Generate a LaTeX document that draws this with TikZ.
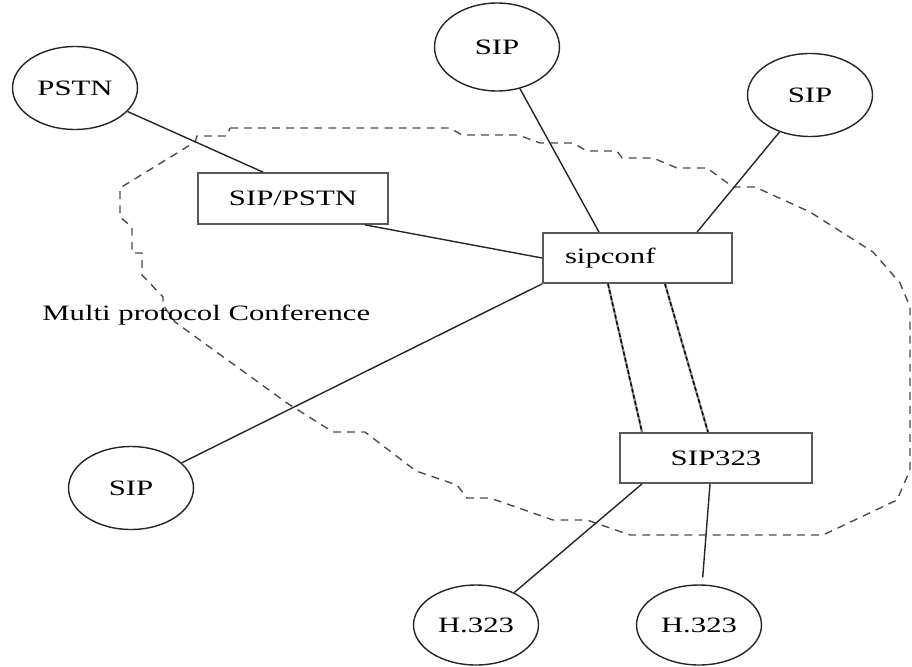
\documentclass[tikz,border=0pt]{standalone}
\usepackage{fontspec}
\setmainfont[FakeStretch=1.4]{Liberation Serif}
\usetikzlibrary{shapes.geometric}
\begin{document}
\begin{tikzpicture}[x=0.02cm,y=-0.02cm,
  font=\fontsize{12.5}{14}\selectfont,
  endpoint/.style={ellipse,draw=black!85,line width=0.8pt,inner sep=0pt,
    minimum width=2.5cm,minimum height=1.66cm},
  box/.style={rectangle,draw=black!65,line width=1pt,inner sep=0pt,
    minimum height=1cm},
  link/.style={draw=black!85,line width=0.8pt},
  trunk/.style={draw=black,line width=0.8pt,dash pattern=on 2.2pt off 1.4pt,
    preaction={draw=black!45,line width=1.3pt,solid}},
  cloudline/.style={draw=black!70,line width=0.8pt,dash pattern=on 4.5pt off 3.5pt}]
\useasboundingbox (0,0) rectangle (912,666);

% dashed conference boundary
\draw[cloudline] (230,128) -- (450,128) -- (462,135) -- (518,135) -- (540,143)
  -- (573,143) -- (587,151) -- (617,151) -- (622,158) -- (653,158) -- (677,168)
  -- (707,168) -- (733,187) -- (755,187) -- (810,212) -- (873,252) -- (900,283)
  -- (910,307) -- (910,470) -- (897,500) -- (823,535) -- (630,535) -- (587,520)
  -- (553,520) -- (490,498) -- (467,498) -- (457,485) -- (416,471) -- (365,432)
  -- (333,432) -- (287,403) -- (175,322) -- (163,305) -- (163,297) -- (142,275)
  -- (142,253) -- (132,253) -- (132,227) -- (120,217) -- (120,188) -- (195,142)
  -- (197,136) -- (227,136) -- cycle;

% nodes
\node[endpoint] (pstn) at (75,88) {PSTN};
\node[endpoint,minimum height=1.76cm] (siptop) at (497,47) {SIP};
\node[endpoint] (sipright) at (810,95) {SIP};
\node[endpoint] (sipbl) at (131,488) {SIP};
\node[endpoint,minimum height=1.6cm] (h323l) at (476,625) {H.323};
\node[endpoint,minimum height=1.6cm] (h323r) at (699,625) {H.323};

\node[box,fill=white,minimum width=3.8cm,minimum height=1.02cm] (sippstn) at (293,198.5) {SIP/PSTN};
\node[box,fill=white,minimum width=3.78cm,text width=3.78cm-0.88cm,inner xsep=0.44cm,align=left] (sipconf) at (637.5,258) {sipconf};
\node[box,fill=white,minimum width=3.84cm] (sip323) at (716,458) {SIP323};

\node[anchor=base west,inner sep=0pt] (label) at (42,320) {Multi protocol Conference};

% connectors
\draw[link] (pstn) -- ([xshift=-0.6cm]sippstn.north);
\draw[link] ([xshift=1.44cm]sippstn.south) -- (sipconf.west);
\draw[link] ([xshift=-0.77cm]sipconf.north) -- (siptop);
\draw[link] ([xshift=1.19cm]sipconf.north) -- (sipright);
\draw[link] (sipconf.south west) -- (sipbl);
\draw[trunk] ([xshift=-0.59cm]sipconf.south) -- ([xshift=-1.48cm]sip323.north);
\draw[trunk] ([xshift=0.55cm]sipconf.south) -- ([xshift=-0.16cm]sip323.north);
\draw[link] ([xshift=-1.48cm]sip323.south) -- (h323l);
\draw[link,shorten >=0.14cm] ([xshift=-0.12cm]sip323.south) -- (h323r);
\end{tikzpicture}
\end{document}
